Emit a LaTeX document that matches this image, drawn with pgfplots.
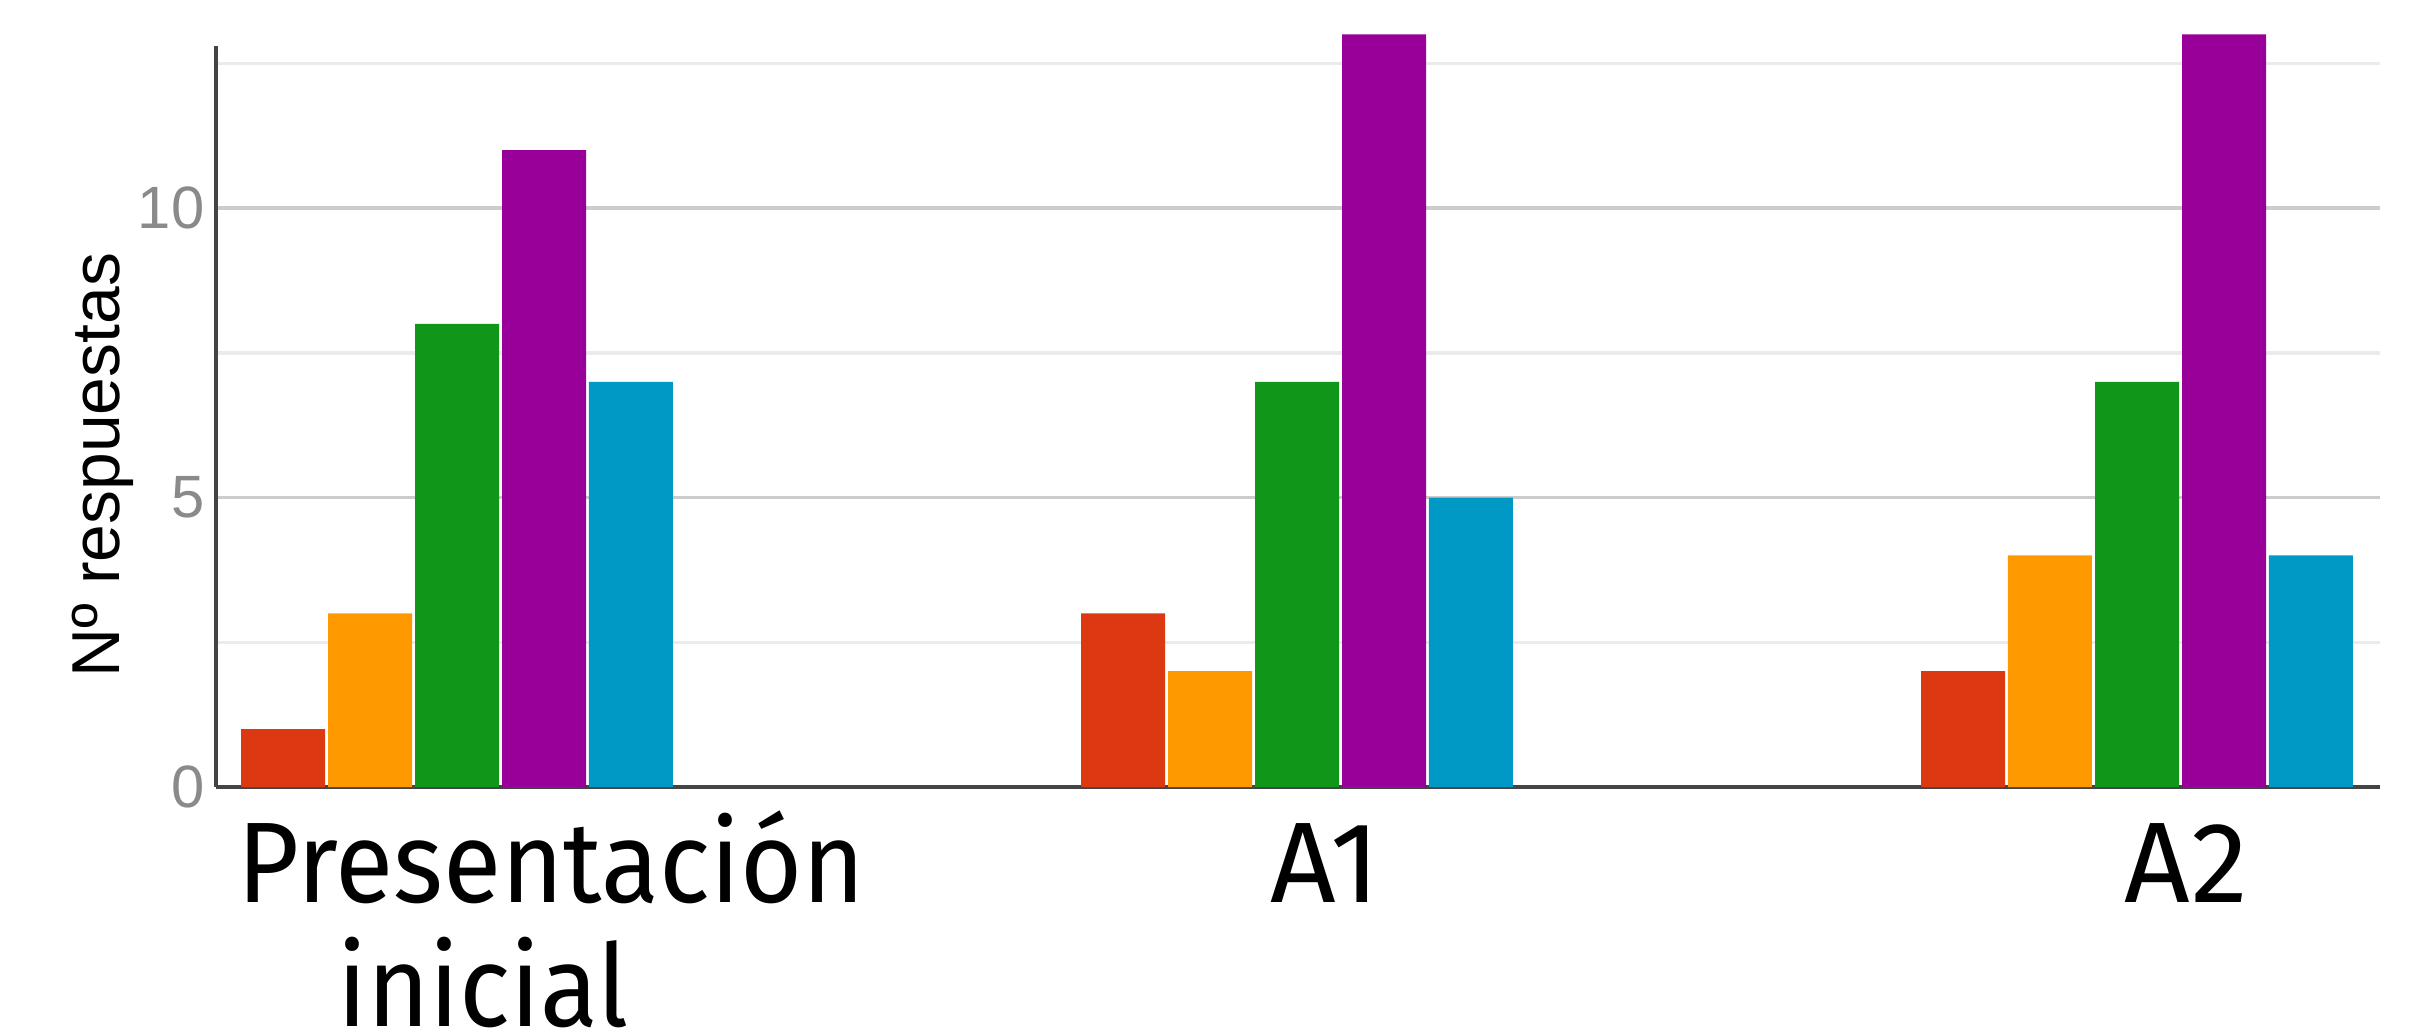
\documentclass[border=0pt]{standalone}
\usepackage{fontspec}
\setmainfont{Fira Sans}
\newfontfamily\catfont{Fira Sans}[FakeStretch=0.93]
\newfontfamily\arialfont{Liberation Sans}
\usepackage{pgfplots}
\pgfplotsset{compat=1.18}
\definecolor{gred}{HTML}{DC3912}
\definecolor{gorange}{HTML}{FF9900}
\definecolor{ggreen}{HTML}{109618}
\definecolor{gpurple}{HTML}{990099}
\definecolor{gblue}{HTML}{0099C6}
\definecolor{axisgray}{HTML}{444444}
\definecolor{majgrid}{HTML}{CCCCCC}
\definecolor{mingrid}{HTML}{EBEBEB}
\definecolor{tickgray}{HTML}{8A8A8A}
\newcommand{\firstlabel}{\catfont\vtop{\halign{\hfil##\hfil\cr Presentación\cr inicial\hspace*{13.7mm}\cr}}}
\begin{document}
\begin{tikzpicture}
\useasboundingbox (0,0) rectangle (241.6mm,103.5mm);
\begin{axis}[
  at={(21.57mm,24.8mm)}, anchor=south west,
  scale only axis, width=216.43mm, height=74.1mm,
  xmin=-0.2873, xmax=2.2893, ymin=0, ymax=12.8,
  clip=false,
  ybar, bar width=0.1,
  axis x line*=bottom, axis y line*=left,
  axis line style={color=axisgray, line width=0.4mm},
  xtick={0.1125,1.0333,2.0583},
  xticklabels={{\firstlabel},A1,A2},
  xticklabel style={anchor=base, yshift=-11.5mm, inner sep=0pt,
    font=\fontsize{32.6pt}{35.4pt}\selectfont, text=black},
  major tick length=0, minor tick length=0,
  ytick={0,5,10}, minor ytick={2.5,7.5,12.5},
  ymajorgrids, yminorgrids,
  major grid style={color=majgrid, line width=0.35mm},
  minor grid style={color=mingrid, line width=0.35mm},
  /pgf/number format/assume math mode=true,
  yticklabel style={font=\arialfont\fontsize{17pt}{17pt}\selectfont, text=tickgray,
    anchor=east, inner sep=0pt, xshift=-1.07mm},
  ylabel={Nº respuestas},
  ylabel style={at={(rel axis cs:-0.04468,0.4345)}, anchor=base, inner sep=0pt,
    font=\arialfont\fontsize{19.3pt}{19.3pt}\selectfont, text=black},
]
\addplot[fill=gred, draw=none, bar shift=-0.2071] coordinates {(0,1) (1,3) (2,2)};
\addplot[fill=gorange, draw=none, bar shift=-0.1036] coordinates {(0,3) (1,2) (2,4)};
\addplot[fill=ggreen, draw=none, bar shift=0] coordinates {(0,8) (1,7) (2,7)};
\addplot[fill=gpurple, draw=none, bar shift=0.1036] coordinates {(0,11) (1,13) (2,13)};
\addplot[fill=gblue, draw=none, bar shift=0.2071] coordinates {(0,7) (1,5) (2,4)};
\end{axis}
\end{tikzpicture}
\end{document}
